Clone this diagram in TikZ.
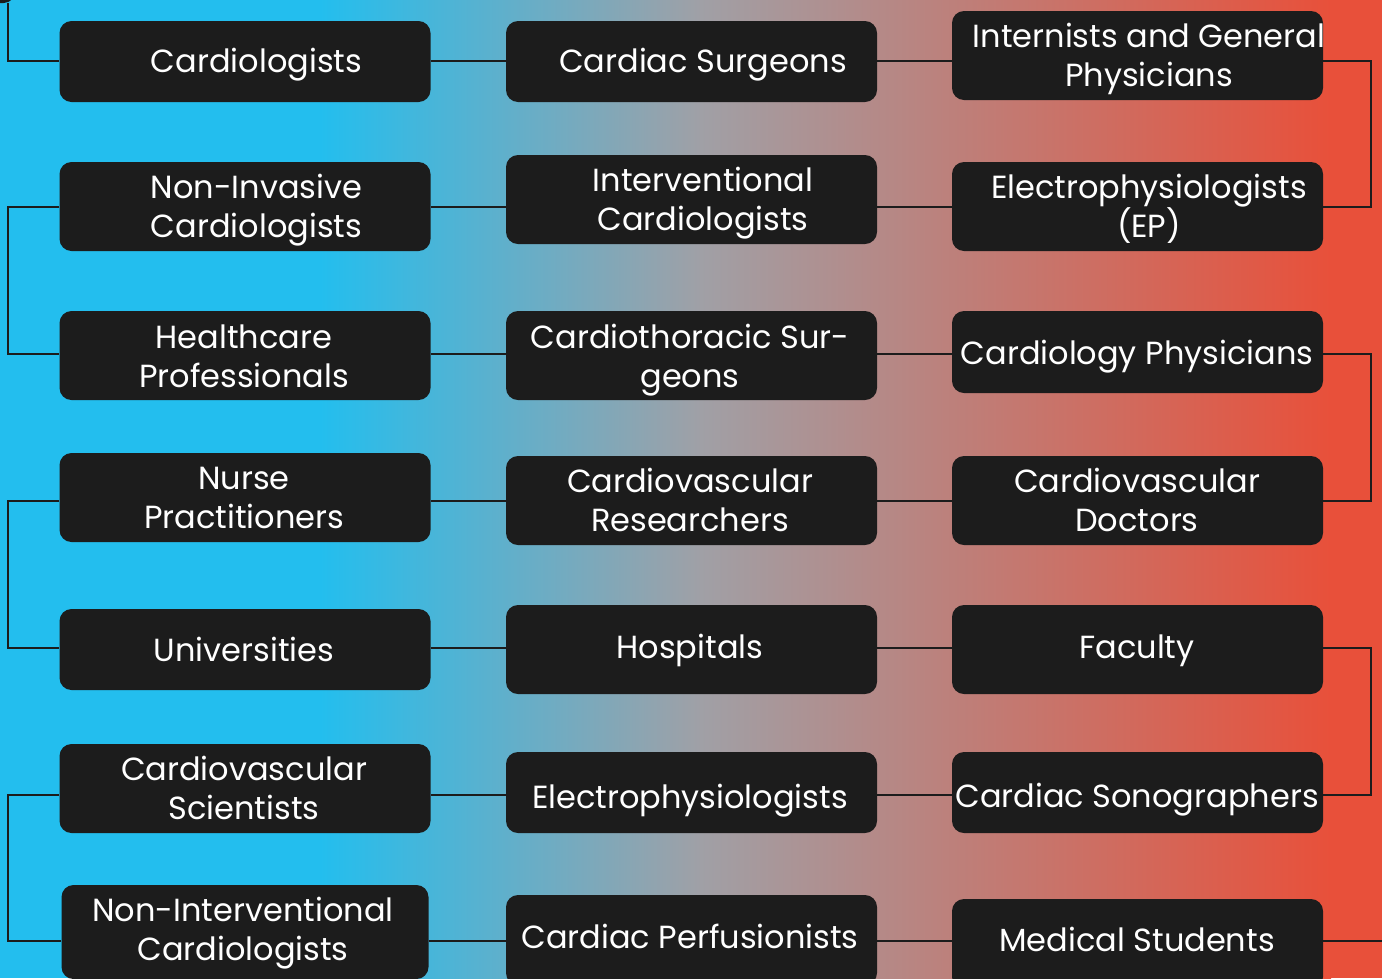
\documentclass[tikz,border=0pt]{standalone}
\usepackage{fontspec}
\setmainfont{Poppins}
\begin{document}
\begin{tikzpicture}[x=1pt,y=-1pt,
  box/.style={draw=none,fill=boxc,rounded corners=12pt,minimum width=371pt,inner sep=0pt},
  txt/.style={text=white,align=center,font=\fontsize{32}{39}\selectfont,inner sep=0pt,yshift=-3pt},
  wire/.style={draw=boxc,line width=2pt}]
\definecolor{boxc}{HTML}{1C1C1C}
\definecolor{cyanb}{RGB}{35,190,238}
\definecolor{grayb}{RGB}{160,160,166}
\definecolor{redb}{RGB}{232,80,58}
\useasboundingbox (0,0) rectangle (1382,978);
\clip (0,0) rectangle (1382,978);
% background
\fill[cyanb] (0,0) rectangle (321,978);
\shade[left color=cyanb,right color=grayb] (320,0) rectangle (701,978);
\shade[left color=grayb,right color=redb] (700,0) rectangle (1331,978);
\fill[redb] (1330,0) rectangle (1382,978);
% row coordinates
\coordinate (lx) at (8,0);
\coordinate (rx) at (1371,0);
\coordinate (ex) at (1400,0);
\coordinate (r1) at (0,61);
\coordinate (r2) at (0,207);
\coordinate (r3) at (0,354);
\coordinate (r4) at (0,501);
\coordinate (r5) at (0,648);
\coordinate (r6) at (0,795);
\coordinate (r7) at (0,941);
% boxes
\node[box,minimum height=86pt] (top) at (-170,-40) {};
\node[box,minimum height=81pt] (a1) at (245,61.5) {};
\node[box,minimum height=81pt] (a2) at (691.5,61.5) {};
\node[box,minimum height=89pt] (a3) at (1137.5,55.5) {};
\node[box,minimum height=89pt] (b1) at (245,206.5) {};
\node[box,minimum height=89pt] (b2) at (691.5,199.5) {};
\node[box,minimum height=89pt] (b3) at (1137.5,206.5) {};
\node[box,minimum height=89pt] (c1) at (245,355.5) {};
\node[box,minimum height=89pt] (c2) at (691.5,355.5) {};
\node[box,minimum height=82pt] (c3) at (1137.5,352) {};
\node[box,minimum height=89pt] (d1) at (245,497.5) {};
\node[box,minimum height=89pt] (d2) at (691.5,500.5) {};
\node[box,minimum height=89pt] (d3) at (1137.5,500.5) {};
\node[box,minimum height=81pt] (e1) at (245,649.5) {};
\node[box,minimum height=89pt] (e2) at (691.5,649.5) {};
\node[box,minimum height=89pt] (e3) at (1137.5,649.5) {};
\node[box,minimum height=89pt] (f1) at (245,788.5) {};
\node[box,minimum height=81pt] (f2) at (691.5,792.5) {};
\node[box,minimum height=81pt] (f3) at (1137.5,792.5) {};
\node[box,minimum height=94pt,minimum width=367pt] (g1) at (245,932) {};
\node[box,minimum height=90pt] (g2) at (691.5,940) {};
\node[box,minimum height=90pt] (g3) at (1137.5,944) {};
% texts
\node[txt] (a1t) at (256.5,61.5) {Cardiologists};
\node[txt] (a2t) at (703,62) {Cardiac Surgeons};
\node[txt] (a3t) at (1149,55.5) {Internists and General\\Physicians};
\node[txt] (b1t) at (256.5,207) {Non-Invasive\\Cardiologists};
\node[txt] (b2t) at (703,200) {Interventional\\Cardiologists};
\node[txt] (b3t) at (1149,206) {Electrophysiologists\\(EP)};
\node[txt] (c1t) at (244,353.5) {Healthcare\\Professionals};
\node[txt] (c2t) at (690,357) {Cardiothoracic Sur-\\geons};
\node[txt] (c3t) at (1137,354) {Cardiology Physicians};
\node[txt] (d1t) at (244,494.5) {Nurse\\Practitioners};
\node[txt] (d2t) at (690,497) {Cardiovascular\\Researchers};
\node[txt] (d3t) at (1137,497) {Cardiovascular\\Doctors};
\node[txt] (e1t) at (244,646.5) {Universities};
\node[txt] (e2t) at (690,647.5) {Hospitals};
\node[txt] (e3t) at (1137,647.5) {Faculty};
\node[txt] (f1t) at (244,785) {Cardiovascular\\Scientists};
\node[txt] (f2t) at (690,797.5) {Electrophysiologists};
\node[txt] (f3t) at (1137,796.5) {Cardiac Sonographers};
\node[txt] (g1t) at (243,930) {Non-Interventional\\Cardiologists};
\node[txt] (g2t) at (690,933.5) {Cardiac Perfusionists};
\node[txt] (g3t) at (1137,936.5) {Medical Students};
% connectors
\draw[wire] (top.south -| lx) |- (a1.west |- r1);
\draw[wire] (a1.east |- r1) -- (a2.west |- r1);
\draw[wire] (a2.east |- r1) -- (a3.west |- r1);
\draw[wire] (a3.east |- r1) -- (rx |- r1) -- (rx |- r2) -- (b3.east |- r2);
\draw[wire] (b3.west |- r2) -- (b2.east |- r2);
\draw[wire] (b2.west |- r2) -- (b1.east |- r2);
\draw[wire] (b1.west |- r2) -- (lx |- r2) -- (lx |- r3) -- (c1.west |- r3);
\draw[wire] (c1.east |- r3) -- (c2.west |- r3);
\draw[wire] (c2.east |- r3) -- (c3.west |- r3);
\draw[wire] (c3.east |- r3) -- (rx |- r3) -- (rx |- r4) -- (d3.east |- r4);
\draw[wire] (d3.west |- r4) -- (d2.east |- r4);
\draw[wire] (d2.west |- r4) -- (d1.east |- r4);
\draw[wire] (d1.west |- r4) -- (lx |- r4) -- (lx |- r5) -- (e1.west |- r5);
\draw[wire] (e1.east |- r5) -- (e2.west |- r5);
\draw[wire] (e2.east |- r5) -- (e3.west |- r5);
\draw[wire] (e3.east |- r5) -- (rx |- r5) -- (rx |- r6) -- (f3.east |- r6);
\draw[wire] (f3.west |- r6) -- (f2.east |- r6);
\draw[wire] (f2.west |- r6) -- (f1.east |- r6);
\draw[wire] (f1.west |- r6) -- (lx |- r6) -- (lx |- r7) -- (g1.west |- r7);
\draw[wire] (g1.east |- r7) -- (g2.west |- r7);
\draw[wire] (g2.east |- r7) -- (g3.west |- r7);
\draw[wire] (g3.east |- r7) -- (ex |- r7);
\end{tikzpicture}
\end{document}
